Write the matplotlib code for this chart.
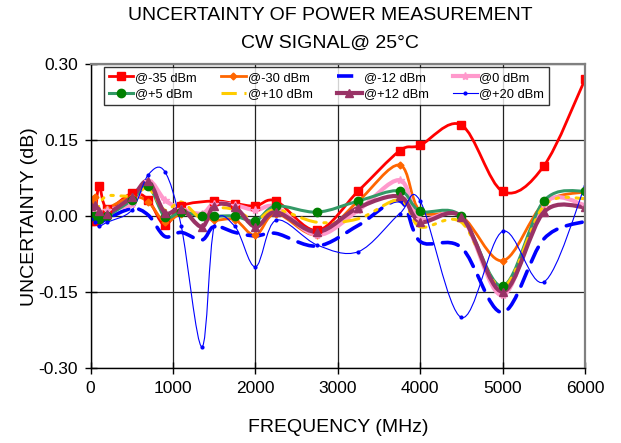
import numpy as np
import matplotlib
matplotlib.use("Agg")
import matplotlib.pyplot as plt
from matplotlib.path import Path
from matplotlib.patches import PathPatch
from matplotlib.lines import Line2D

plt.rcParams["font.family"] = ["Liberation Sans", "DejaVu Sans"]

# Frequency points (MHz)
freq = [10, 50, 100, 200, 500, 700, 900, 1100, 1350, 1500, 1750,
        2000, 2250, 2750, 3250, 3750, 4000, 4500, 5000, 5500, 6000]
freq_m35 = [10, 50, 100, 200, 500, 700, 900, 1100, 1500, 1750,
            2000, 2250, 2750, 3250, 3750, 4000, 4500, 5000, 5500, 6000]

# Measurement uncertainty (dB) for each input power level
unc_m35 = [-0.010, -0.010, 0.060, 0.015, 0.045, 0.032, -0.018, 0.020, 0.030, 0.025,
           0.020, 0.030, -0.028, 0.050, 0.129, 0.140, 0.180, 0.049, 0.099, 0.270]
unc_m30 = [0.030, 0.038, 0.005, 0.015, 0.038, 0.028, -0.011, 0.005, 0.000, -0.008, -0.007,
           -0.038, 0.005, -0.037, 0.030, 0.101, 0.010, 0.000, -0.088, 0.025, 0.048]
unc_m12 = [-0.005, -0.010, -0.015, -0.005, 0.015, 0.002, -0.040, -0.032, -0.047, -0.020, -0.032,
           -0.039, -0.034, -0.059, -0.018, 0.030, -0.050, -0.062, -0.190, -0.045, -0.010]
unc_0 = [0.010, 0.015, 0.000, 0.012, 0.025, 0.070, 0.032, 0.015, 0.005, 0.025, 0.022,
         0.012, 0.018, -0.037, 0.012, 0.071, -0.005, -0.001, -0.156, 0.025, 0.022]
unc_p5 = [0.000, 0.000, -0.005, 0.000, 0.032, 0.059, -0.001, 0.008, 0.000, 0.000, 0.000,
          -0.009, 0.020, 0.008, 0.030, 0.050, 0.010, 0.000, -0.138, 0.030, 0.050]
unc_p10 = [0.005, 0.000, 0.020, 0.040, 0.040, 0.055, 0.012, 0.028, -0.005, 0.015, 0.013,
           -0.008, 0.013, -0.012, -0.005, 0.032, -0.021, -0.012, -0.140, 0.020, 0.035]
unc_p12 = [0.020, 0.022, 0.010, 0.005, 0.038, 0.069, 0.007, 0.015, -0.021, 0.021, 0.018,
           -0.021, 0.008, -0.031, 0.017, 0.039, -0.011, -0.001, -0.149, 0.008, 0.018]
unc_p20 = [-0.005, -0.012, -0.020, -0.012, 0.012, 0.082, 0.088, -0.020, -0.258, -0.020, -0.020,
           -0.100, -0.008, -0.057, -0.070, 0.005, 0.030, -0.200, -0.030, -0.130, 0.060]

labels = ["@-35 dBm", "@-30 dBm", "@-12 dBm", "@0 dBm",
          "@+5 dBm", "@+10 dBm", "@+12 dBm", "@+20 dBm"]
series = [(freq_m35, unc_m35), (freq, unc_m30), (freq, unc_m12), (freq, unc_0),
          (freq, unc_p5), (freq, unc_p10), (freq, unc_p12), (freq, unc_p20)]

styles = [
    dict(color="#FF0000", lw=2.0, ls="-", marker="s", ms=5.5, mfc="#FF0000", mec="#FF0000"),
    dict(color="#FF6600", lw=2.0, ls="-", marker="D", ms=3.5, mfc="#FF6600", mec="#FF6600"),
    dict(color="#0000FF", lw=2.6, ls=(0, (4.5, 2.8)), marker=None, ms=0, mfc="none", mec="none"),
    dict(color="#FF99CC", lw=3.0, ls="-", marker="*", ms=6, mfc="#FF99CC", mec="#FF99CC"),
    dict(color="#339966", lw=2.2, ls="-", marker="o", ms=6, mfc="#008000", mec="#008000"),
    dict(color="#FFCC00", lw=2.2, ls=(0, (5, 2.5, 0.8, 2.5, 0.8, 2.5)), marker=None, ms=0, mfc="none", mec="none"),
    dict(color="#993366", lw=3.0, ls="-", marker="^", ms=6, mfc="#993366", mec="#993366"),
    dict(color="#0000FF", lw=0.8, ls="-", marker="o", ms=2, mfc="#0000FF", mec="#0000FF"),
]


def smooth_path(xs, ys):
    """Cubic Bezier path through the points (Catmull-Rom style tangents)."""
    pts = np.column_stack([xs, ys]).astype(float)
    n = len(pts)
    verts = [pts[0]]
    codes = [Path.MOVETO]
    for i in range(n - 1):
        p0 = pts[i - 1] if i > 0 else pts[i]
        p1 = pts[i]
        p2 = pts[i + 1]
        p3 = pts[i + 2] if i + 2 < n else pts[i + 1]
        c1 = p1 + (p2 - p0) / 6.0
        c2 = p2 - (p3 - p1) / 6.0
        verts += [c1, c2, p2]
        codes += [Path.CURVE4] * 3
    return Path(verts, codes)


fig = plt.figure(figsize=(6.21, 4.43), dpi=100)
ax = fig.add_axes([0.146, 0.169, 0.796, 0.686])

ax.set_xlim(0, 6000)
ax.set_ylim(-0.30, 0.30)
ax.set_xticks(np.arange(0, 6001, 1000))
ax.set_yticks([-0.30, -0.15, 0.0, 0.15, 0.30])
ax.set_yticklabels(["-0.30", "-0.15", "0.00", "0.15", "0.30"])
ax.grid(True, color="#222222", lw=0.9)
ax.set_axisbelow(True)

for sp in ("top", "right"):
    ax.spines[sp].set_color("#808080")
    ax.spines[sp].set_linewidth(1.6)
for sp in ("left", "bottom"):
    ax.spines[sp].set_color("#000000")
    ax.spines[sp].set_linewidth(1.0)

ax.tick_params(direction="inout", length=8, width=1.0, labelsize=12.5, pad=5)

handles = []
for (xs, vals), st in zip(series, styles):
    patch = PathPatch(smooth_path(xs, vals), fill=False, edgecolor=st["color"],
                      lw=st["lw"], ls=st["ls"], capstyle="round", joinstyle="round")
    ax.add_patch(patch)
    if st["marker"]:
        ax.plot(xs, vals, ls="none", marker=st["marker"], ms=st["ms"],
                mfc=st["mfc"], mec=st["mec"], zorder=patch.get_zorder() + 0.1)
    handles.append(Line2D([], [], color=st["color"], lw=st["lw"], ls=st["ls"],
                          marker=st["marker"], ms=st["ms"], mfc=st["mfc"], mec=st["mec"]))

# legend fills column by column; order entries so they read row by row
order = [0, 4, 1, 5, 2, 6, 3, 7]
leg = ax.legend([handles[i] for i in order], [labels[i] for i in order],
                ncol=4, loc="upper left", bbox_to_anchor=(0.027, 0.99),
                fontsize=9.3, frameon=True, fancybox=False, edgecolor="#000000",
                handlelength=1.9, handletextpad=0.15, columnspacing=1.9,
                borderpad=0.35, labelspacing=0.35, borderaxespad=0.0)
leg.get_frame().set_linewidth(1.0)

ax.set_xlabel("FREQUENCY (MHz)", fontsize=14, labelpad=17)
ax.set_ylabel("UNCERTAINTY (dB)", fontsize=14, labelpad=0)

fig.text(330 / 621, 1 - 16 / 443, "UNCERTAINTY OF POWER MEASUREMENT",
         ha="center", va="center", fontsize=14)
fig.text(330 / 621, 1 - 43 / 443, "CW SIGNAL@ 25°C",
         ha="center", va="center", fontsize=14)

fig.savefig("out.png", dpi=100)
